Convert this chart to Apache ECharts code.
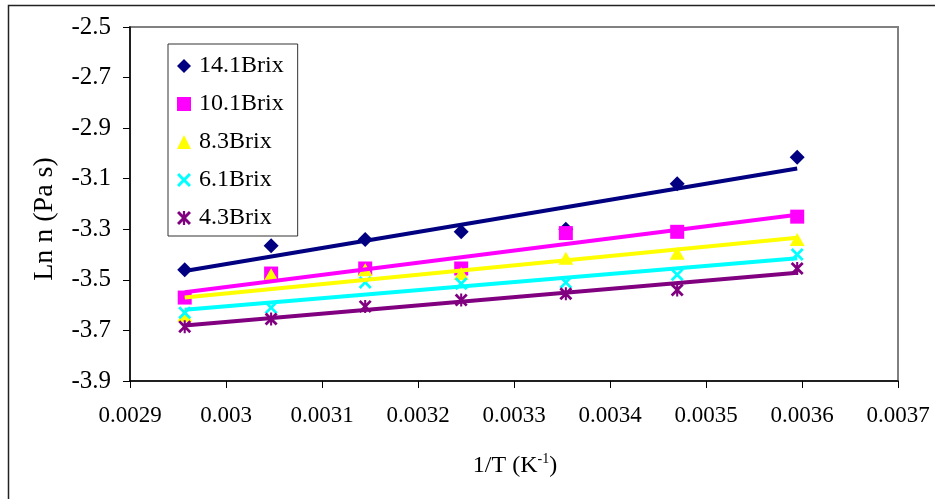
<!DOCTYPE html>
<html>
<head>
<meta charset="utf-8">
<script src="https://cdn.jsdelivr.net/npm/echarts@6/dist/echarts.min.js"></script>
<style>
html,body{margin:0;padding:0;background:#fff;}
#chart{width:935px;height:499px;}
</style>
</head>
<body>
<div id="chart"></div>
<script>
// 1/T (K^-1)
var invT = [0.002957, 0.003047, 0.003145, 0.003245, 0.003354, 0.003470, 0.003595];
// Ln n (Pa s)
var brix141 = [-3.46, -3.365, -3.34, -3.31, -3.30, -3.12, -3.015];
var brix101 = [-3.57, -3.475, -3.455, -3.455, -3.315, -3.31, -3.25];
var brix83  = [-3.64, -3.48, -3.46, -3.475, -3.415, -3.395, -3.34];
var brix61  = [-3.63, -3.61, -3.51, -3.515, -3.51, -3.48, -3.40];
var brix43  = [-3.685, -3.655, -3.605, -3.58, -3.555, -3.54, -3.455];
var seriesNames = ['14.1Brix', '10.1Brix', '8.3Brix', '6.1Brix', '4.3Brix'];
var xTicks = [0.0029, 0.003, 0.0031, 0.0032, 0.0033, 0.0034, 0.0035, 0.0036, 0.0037];
var yTicks = [-3.9, -3.7, -3.5, -3.3, -3.1, -2.9, -2.7, -2.5];

var FONT = 'Liberation Serif';
var allY = [brix141, brix101, brix83, brix61, brix43];
var colors = ['#000080', '#FF00FF', '#FFFF00', '#00FFFF', '#800080'];
var xPath = 'M0,1.5L1.5,0L5,3.5L8.5,0L10,1.5L6.5,5L10,8.5L8.5,10L5,6.5L1.5,10L0,8.5L3.5,5Z';
var symbols = ['diamond', 'rect', 'triangle', 'path://' + xPath, 'path://' + xPath + 'M4.2,0L5.8,0L5.8,10L4.2,10Z'];
var sizes = [15, 14, [15, 13], 13, 13];

function pairs(ys) { return invT.map(function (x, i) { return [x, ys[i]]; }); }
function trend(ys) {
  var n = invT.length, mx = 0, my = 0;
  for (var i = 0; i < n; i++) { mx += invT[i]; my += ys[i]; }
  mx /= n; my /= n;
  var sxy = 0, sxx = 0;
  for (var j = 0; j < n; j++) { sxy += (invT[j] - mx) * (ys[j] - my); sxx += (invT[j] - mx) * (invT[j] - mx); }
  var b = sxy / sxx, a = my - b * mx;
  var x0 = invT[0], x1 = invT[n - 1];
  return [[x0, a + b * x0], [x1, a + b * x1]];
}

var series = [];
allY.forEach(function (ys, k) {
  series.push({
    name: seriesNames[k], type: 'scatter', data: pairs(ys),
    symbol: symbols[k], symbolSize: sizes[k],
    itemStyle: { color: colors[k], opacity: 1 }, z: 2
  });
});
allY.forEach(function (ys, k) {
  series.push({
    name: 'trend' + k, type: 'line', data: trend(ys), showSymbol: false, symbol: 'none',
    lineStyle: { color: colors[k], width: 4 }, z: 3, silent: true
  });
});

var chart = echarts.init(document.getElementById('chart'));
chart.setOption({
  animation: false,
  backgroundColor: '#fff',
  grid: { left: 130, top: 27, right: 37, bottom: 118, show: true, borderColor: '#808080', borderWidth: 2, backgroundColor: 'transparent' },
  legend: {
    data: seriesNames, orient: 'vertical', left: 168, top: 44,
    padding: [10, 14, 6, 9], itemGap: 14, itemWidth: 14, itemHeight: 14,
    borderColor: '#333', borderWidth: 1, backgroundColor: '#fff',
    textStyle: { fontFamily: FONT, fontSize: 24, color: '#000', padding: [0, 0, 0, 3] }
  },
  xAxis: {
    type: 'value', min: 0.0029, max: 0.0037,
    axisLine: { show: true, lineStyle: { color: '#000', width: 1.5 } },
    axisTick: { show: true, length: 7, lineStyle: { color: '#000' }, customValues: xTicks },
    axisLabel: { customValues: xTicks, margin: 23, fontFamily: FONT, fontSize: 23, color: '#000', formatter: function (v) { return String(v); } },
    splitLine: { show: false }
  },
  yAxis: {
    type: 'value', min: -3.9, max: -2.5,
    axisLine: { show: true, lineStyle: { color: '#000', width: 1.5 } },
    axisTick: { show: true, length: 7, lineStyle: { color: '#000' }, customValues: yTicks },
    axisLabel: { customValues: yTicks, margin: 19, fontFamily: FONT, fontSize: 25, color: '#000', formatter: function (v) { return String(v); } },
    splitLine: { show: false }
  },
  graphic: [
    { type: 'rect', shape: { x: 8.5, y: 5.5, width: 940, height: 510 }, style: { fill: 'none', stroke: '#222', lineWidth: 1.5 }, silent: true, z: -1 },
    { type: 'text', x: 45, y: 219, rotation: Math.PI / 2, style: { text: 'Ln n (Pa s)', fontFamily: FONT, fontSize: 28, fill: '#000', align: 'center', verticalAlign: 'middle' } },
    { type: 'text', x: 515, y: 466, style: { text: '{a|1/T (K}{b|-1}{a|)}', align: 'center', verticalAlign: 'middle',
      rich: { a: { fontFamily: FONT, fontSize: 24, fill: '#000', lineHeight: 28 }, b: { fontFamily: FONT, fontSize: 14, fill: '#000', lineHeight: 28, verticalAlign: 'top', padding: [0, 0, 12, 0] } } } }
  ],
  series: series
});
</script>
</body>
</html>
